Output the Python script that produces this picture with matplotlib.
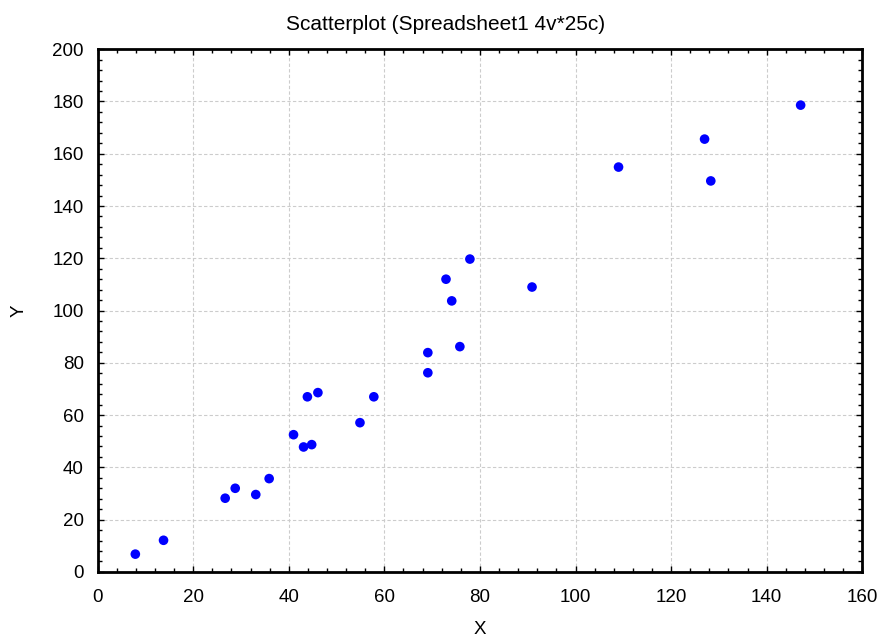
import matplotlib
matplotlib.use("Agg")
import matplotlib.pyplot as plt
from matplotlib.ticker import MultipleLocator

plt.rcParams['font.family'] = ['Liberation Sans', 'DejaVu Sans']

# values
x = [7.9, 13.8, 26.7, 28.8, 33.1, 35.9, 41.0, 43.1, 44.8, 43.9, 46.1, 54.9,
     57.8, 77.9, 72.9, 74.1, 90.9, 75.8, 69.1, 69.1, 147.1, 127.0, 109.0, 128.3]
y = [6.8, 12.1, 28.2, 32.0, 29.6, 35.7, 52.5, 47.8, 48.7, 67.0, 68.6, 57.1,
     67.0, 119.7, 112.0, 103.7, 109.0, 86.2, 83.9, 76.2, 178.6, 165.6, 154.9, 149.6]

title = "Scatterplot (Spreadsheet1 4v*25c)"

fig = plt.figure(figsize=(8.79, 6.39), dpi=100)
ax = fig.add_axes([0.111, 0.105, 0.870, 0.818])

ax.scatter(x, y, s=48, c='#0000ff', edgecolors='none', zorder=3)

ax.set_xlim(0, 160)
ax.set_ylim(0, 200)
ax.xaxis.set_major_locator(MultipleLocator(20))
ax.yaxis.set_major_locator(MultipleLocator(20))
ax.xaxis.set_minor_locator(MultipleLocator(4))
ax.yaxis.set_minor_locator(MultipleLocator(4))
ax.tick_params(which='both', direction='in', top=True, right=True, labelsize=13.5)
ax.tick_params(axis='y', pad=10)
ax.tick_params(axis='x', pad=12)
ax.tick_params(which='major', length=4, width=1)
ax.tick_params(which='minor', length=3, width=1)
ax.grid(True, which='major', color='#cccccc', linestyle=(0, (3, 2)), linewidth=0.8)
for s in ax.spines.values():
    s.set_linewidth(2)

fig.text(0.507, 1 - 29.5 / 639, title, fontsize=15, ha='center', va='baseline')
ax.set_xlabel("X", fontsize=13.5, labelpad=11)
ax.set_ylabel("Y", fontsize=13.5, labelpad=18, rotation=90)

fig.savefig("out.png", dpi=100)
